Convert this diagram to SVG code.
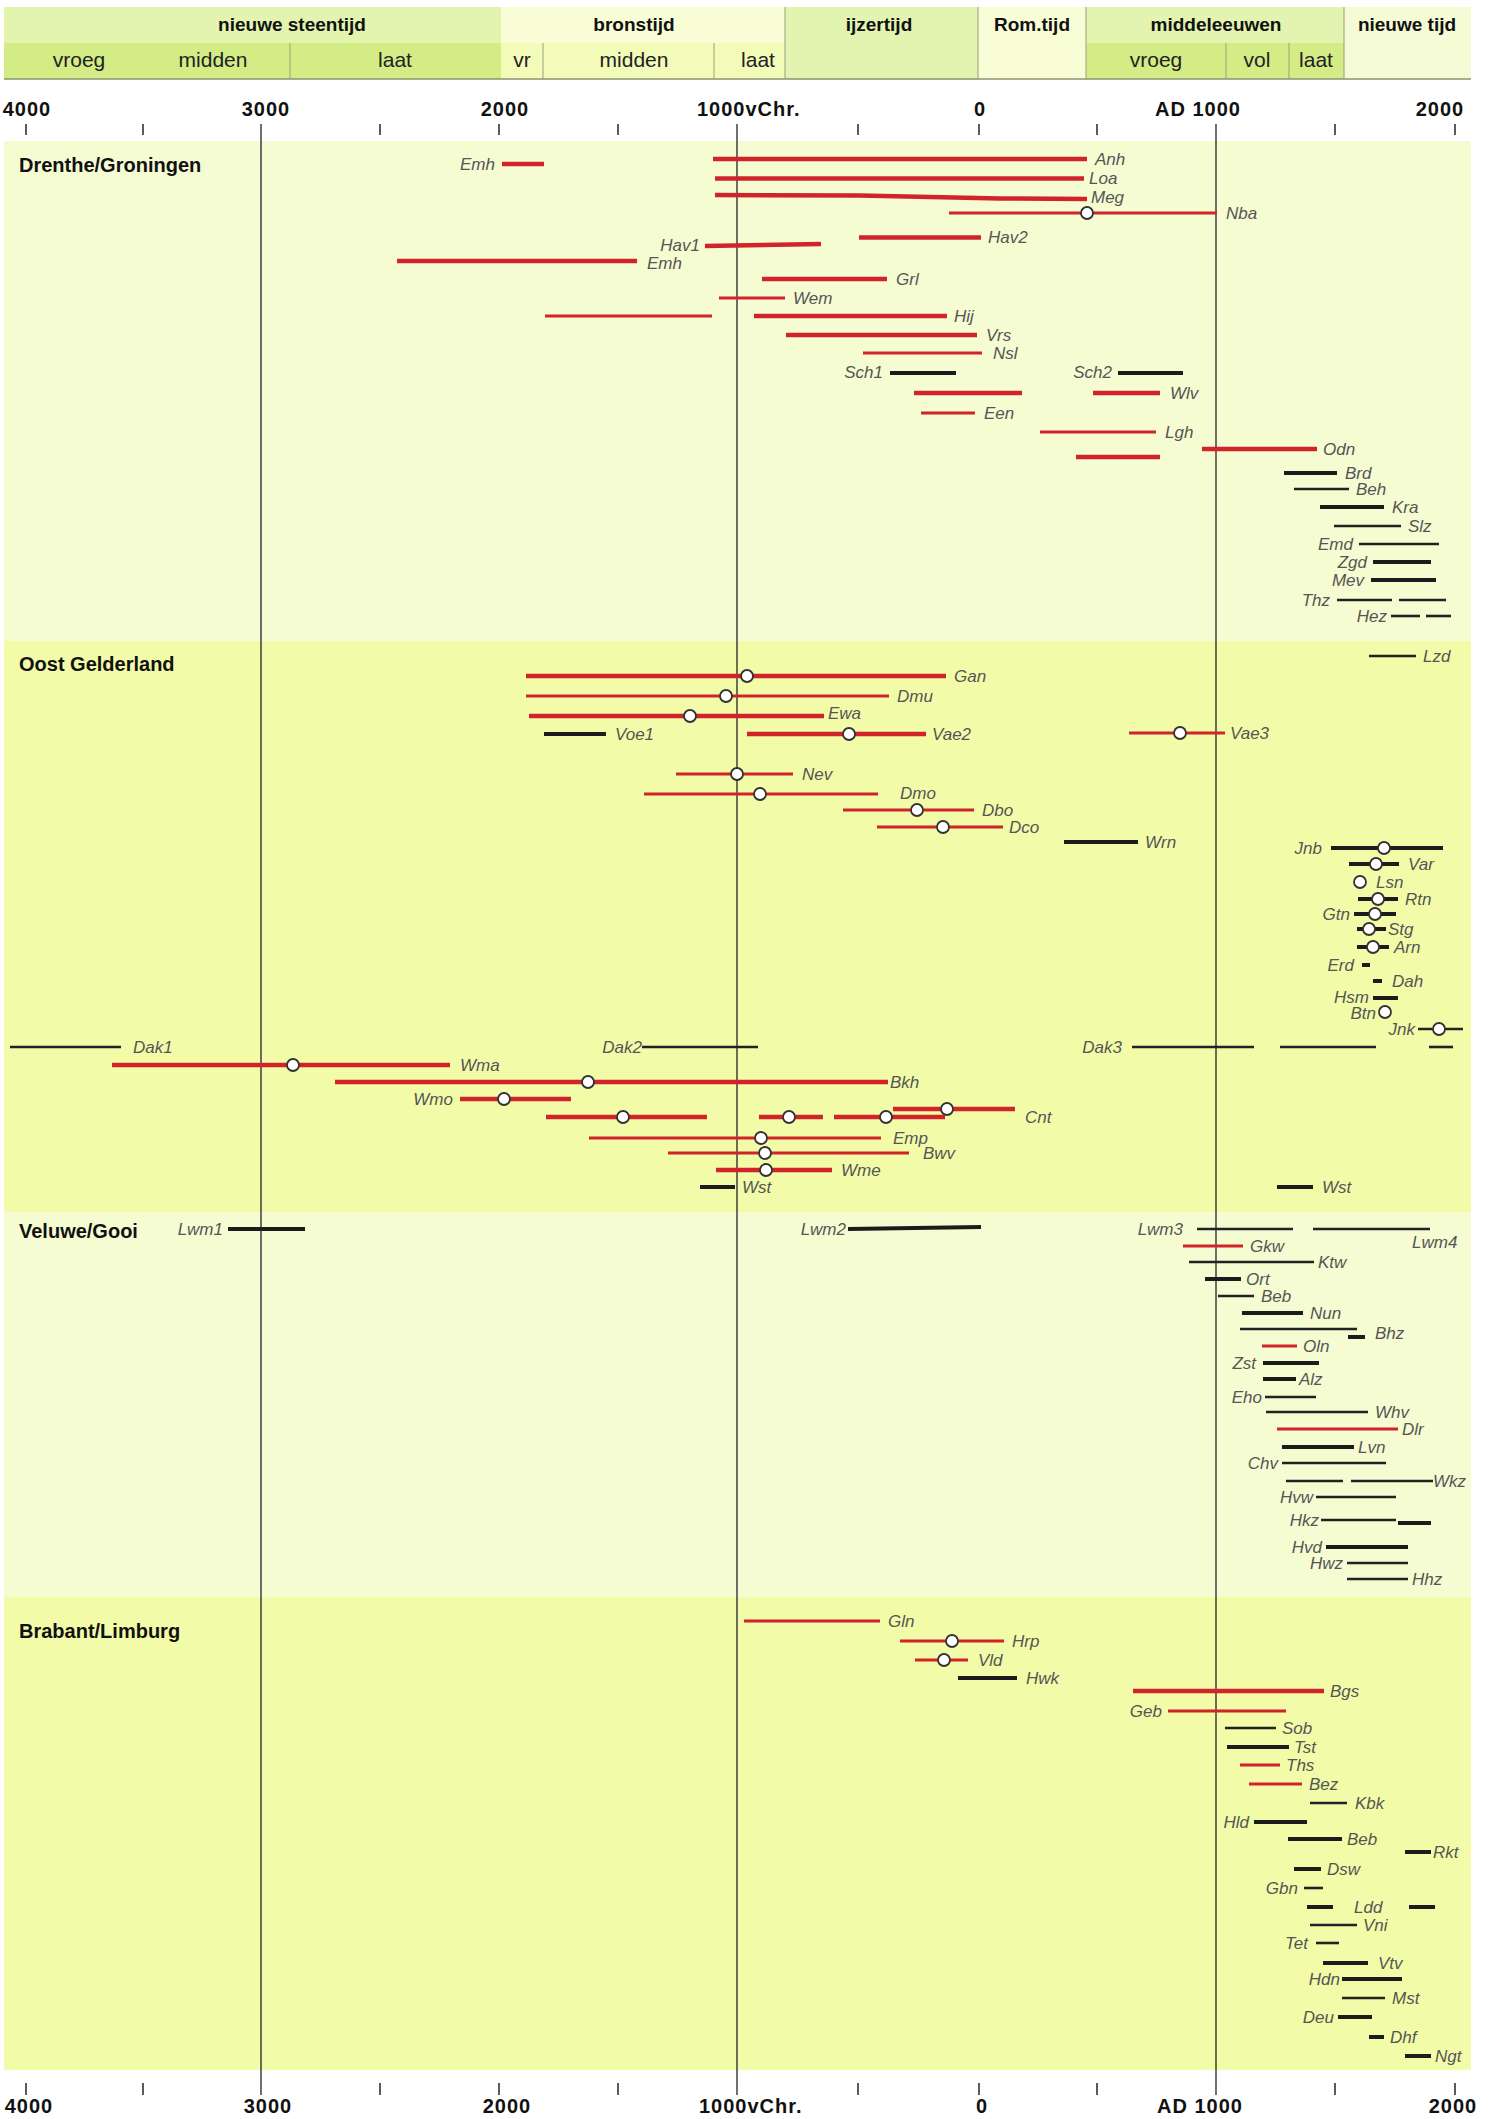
<svg xmlns="http://www.w3.org/2000/svg" width="1498" height="2119" viewBox="0 0 1498 2119">
<style>
.rt{stroke:#d1232a;stroke-width:4.5;fill:none}
.rn{stroke:#d1232a;stroke-width:3;fill:none}
.bt{stroke:#1c1c1c;stroke-width:4;fill:none}
.bn{stroke:#222;stroke-width:2.6;fill:none}
.c{fill:#fff;stroke:#333;stroke-width:1.8}
.l{font-family:"Liberation Sans",Arial,sans-serif;font-style:italic;font-size:17px;fill:#555}
.e{text-anchor:end}
.h1{font-family:"Liberation Sans",Arial,sans-serif;font-weight:bold;font-size:19px;fill:#111;text-anchor:middle}
.h2{font-family:"Liberation Sans",Arial,sans-serif;font-size:21px;fill:#222;text-anchor:middle}
.ax{font-family:"Liberation Sans",Arial,sans-serif;font-weight:bold;font-size:20px;fill:#111;letter-spacing:1px}
.sec{font-family:"Liberation Sans",Arial,sans-serif;font-weight:bold;font-size:20px;fill:#111}
.dv{stroke:#9a9f80;stroke-width:1}
.tk{stroke:#333;stroke-width:1.6}
.vl{stroke:#333;stroke-width:1.4}
</style>
<rect width="1498" height="2119" fill="#fff"/>
<g id="header">
<rect x="4" y="7" width="497" height="36" fill="#e2f4ad"/>
<rect x="4" y="43" width="497" height="36" fill="#d3ec86"/>
<rect x="501" y="7" width="284" height="36" fill="#f8fdd6"/>
<rect x="501" y="43" width="284" height="36" fill="#f3fbb8"/>
<rect x="785" y="7" width="193" height="72" fill="#e3f4b0"/>
<rect x="978" y="7" width="108" height="72" fill="#f8fdd6"/>
<rect x="1086" y="7" width="258" height="36" fill="#e3f4b0"/>
<rect x="1086" y="43" width="258" height="36" fill="#d3ec86"/>
<rect x="1344" y="7" width="127" height="72" fill="#f5fbd4"/>
<line class="dv" x1="290" y1="43" x2="290" y2="79"/>
<line class="dv" x1="543" y1="43" x2="543" y2="79"/>
<line class="dv" x1="714" y1="43" x2="714" y2="79"/>
<line class="dv" x1="1226" y1="43" x2="1226" y2="79"/>
<line class="dv" x1="1289" y1="43" x2="1289" y2="79"/>
<line class="dv" x1="785" y1="7" x2="785" y2="79"/>
<line class="dv" x1="978" y1="7" x2="978" y2="79"/>
<line class="dv" x1="1086" y1="7" x2="1086" y2="79"/>
<line class="dv" x1="1344" y1="7" x2="1344" y2="79"/>
<line x1="4" y1="79" x2="1471" y2="79" stroke="#8d9270" stroke-width="1.4"/>
<text class="h1" x="292" y="31">nieuwe steentijd</text>
<text class="h1" x="634" y="31">bronstijd</text>
<text class="h1" x="879" y="31">ijzertijd</text>
<text class="h1" x="1032" y="31">Rom.tijd</text>
<text class="h1" x="1216" y="31">middeleeuwen</text>
<text class="h1" x="1407" y="31">nieuwe tijd</text>
<text class="h2" x="79" y="67">vroeg</text>
<text class="h2" x="213" y="67">midden</text>
<text class="h2" x="395" y="67">laat</text>
<text class="h2" x="522" y="67">vr</text>
<text class="h2" x="634" y="67">midden</text>
<text class="h2" x="758" y="67">laat</text>
<text class="h2" x="1156" y="67">vroeg</text>
<text class="h2" x="1257" y="67">vol</text>
<text class="h2" x="1316" y="67">laat</text>
</g>
<g id="bands">
<rect x="4" y="141" width="1467" height="500" fill="#f6fcd2"/>
<rect x="4" y="641" width="1467" height="571" fill="#f2fca8"/>
<rect x="4" y="1212" width="1467" height="385" fill="#f6fcd2"/>
<rect x="4" y="1597" width="1467" height="473" fill="#f2fca8"/>
<text class="sec" x="19" y="172">Drenthe/Groningen</text>
<text class="sec" x="19" y="671">Oost Gelderland</text>
<text class="sec" x="19" y="1238">Veluwe/Gooi</text>
<text class="sec" x="19" y="1638">Brabant/Limburg</text>
</g>
<g id="axis">
<g class="tk">
<line x1="26" y1="124" x2="26" y2="135"/><line x1="143" y1="124" x2="143" y2="135"/><line x1="380" y1="124" x2="380" y2="135"/><line x1="499" y1="124" x2="499" y2="135"/><line x1="618" y1="124" x2="618" y2="135"/><line x1="858" y1="124" x2="858" y2="135"/><line x1="979" y1="124" x2="979" y2="135"/><line x1="1097" y1="124" x2="1097" y2="135"/><line x1="1335" y1="124" x2="1335" y2="135"/><line x1="1455" y1="124" x2="1455" y2="135"/>
<line x1="26" y1="2083" x2="26" y2="2095"/><line x1="143" y1="2083" x2="143" y2="2095"/><line x1="380" y1="2083" x2="380" y2="2095"/><line x1="499" y1="2083" x2="499" y2="2095"/><line x1="618" y1="2083" x2="618" y2="2095"/><line x1="858" y1="2083" x2="858" y2="2095"/><line x1="979" y1="2083" x2="979" y2="2095"/><line x1="1097" y1="2083" x2="1097" y2="2095"/><line x1="1335" y1="2083" x2="1335" y2="2095"/><line x1="1455" y1="2083" x2="1455" y2="2095"/>
</g>
<line class="vl" x1="261" y1="124" x2="261" y2="2095"/>
<line class="vl" x1="737" y1="124" x2="737" y2="2095"/>
<line class="vl" x1="1216" y1="124" x2="1216" y2="2095" stroke="#555" stroke-width="2"/>
<text class="ax" x="27" y="116" text-anchor="middle">4000</text>
<text class="ax" x="266" y="116" text-anchor="middle">3000</text>
<text class="ax" x="505" y="116" text-anchor="middle">2000</text>
<text class="ax" x="697" y="116">1000vChr.</text>
<text class="ax" x="980" y="116" text-anchor="middle">0</text>
<text class="ax" x="1198" y="116" text-anchor="middle">AD 1000</text>
<text class="ax" x="1440" y="116" text-anchor="middle">2000</text>
<text class="ax" x="29" y="2113" text-anchor="middle">4000</text>
<text class="ax" x="268" y="2113" text-anchor="middle">3000</text>
<text class="ax" x="507" y="2113" text-anchor="middle">2000</text>
<text class="ax" x="699" y="2113">1000vChr.</text>
<text class="ax" x="982" y="2113" text-anchor="middle">0</text>
<text class="ax" x="1200" y="2113" text-anchor="middle">AD 1000</text>
<text class="ax" x="1453" y="2113" text-anchor="middle">2000</text>
</g>
<g id="drenthe">
<g id="emh1"><line class="rt" x1="502" y1="164" x2="544" y2="164"/><text class="l e" x="495" y="170">Emh</text></g>
<g id="anh"><line class="rt" x1="713" y1="159" x2="1087" y2="159"/><text class="l" x="1095" y="165">Anh</text></g>
<g id="loa"><line class="rt" x1="715" y1="178.5" x2="1084" y2="178.5"/><text class="l" x="1089" y="184">Loa</text></g>
<g id="meg"><polyline class="rt" points="715,195 860,195.5 1000,198.5 1087,199"/><text class="l" x="1091" y="203">Meg</text></g>
<g id="nba"><line class="rn" x1="949" y1="213" x2="1217" y2="213"/><circle class="c" cx="1087" cy="213" r="6"/><text class="l" x="1226" y="219">Nba</text></g>
<g id="hav2"><line class="rt" x1="859" y1="237.5" x2="981" y2="237.5"/><text class="l" x="988" y="243">Hav2</text></g>
<g id="hav1"><line class="rt" x1="705" y1="246" x2="821" y2="244"/><text class="l e" x="700" y="251">Hav1</text></g>
<g id="emh2"><line class="rt" x1="397" y1="261" x2="637" y2="261"/><text class="l" x="647" y="269">Emh</text></g>
<g id="grl"><line class="rt" x1="762" y1="279" x2="887" y2="279"/><text class="l" x="896" y="285">Grl</text></g>
<g id="wem"><line class="rn" x1="719" y1="298" x2="785" y2="298"/><text class="l" x="793" y="304">Wem</text></g>
<g id="hij"><line class="rn" x1="545" y1="316" x2="712" y2="316"/><line class="rt" x1="754" y1="316" x2="947" y2="316"/><text class="l" x="954" y="322">Hij</text></g>
<g id="vrs"><line class="rt" x1="786" y1="335" x2="977" y2="335"/><text class="l" x="986" y="341">Vrs</text></g>
<g id="nsl"><line class="rn" x1="863" y1="353" x2="982" y2="353"/><text class="l" x="993" y="359">Nsl</text></g>
<g id="sch1"><line class="bt" x1="890" y1="373" x2="956" y2="373"/><text class="l e" x="883" y="378">Sch1</text></g>
<g id="sch2"><line class="bt" x1="1118" y1="373" x2="1183" y2="373"/><text class="l e" x="1112" y="378">Sch2</text></g>
<g id="wlv"><line class="rt" x1="914" y1="393" x2="1022" y2="393"/><line class="rt" x1="1093" y1="393" x2="1160" y2="393"/><text class="l" x="1170" y="399">Wlv</text></g>
<g id="een"><line class="rn" x1="921" y1="413" x2="975" y2="413"/><text class="l" x="984" y="419">Een</text></g>
<g id="lgh"><line class="rn" x1="1040" y1="432" x2="1156" y2="432"/><line class="rt" x1="1076" y1="457" x2="1160" y2="457"/><text class="l" x="1165" y="438">Lgh</text></g>
<g id="odn"><line class="rt" x1="1202" y1="449" x2="1317" y2="449"/><text class="l" x="1323" y="455">Odn</text></g>
<g id="brd"><line class="bt" x1="1284" y1="473" x2="1337" y2="473"/><text class="l" x="1345" y="479">Brd</text></g>
<g id="beh"><line class="bn" x1="1294" y1="489" x2="1349" y2="489"/><text class="l" x="1356" y="495">Beh</text></g>
<g id="kra"><line class="bt" x1="1320" y1="507" x2="1384" y2="507"/><text class="l" x="1392" y="513">Kra</text></g>
<g id="slz"><line class="bn" x1="1334" y1="526" x2="1401" y2="526"/><text class="l" x="1408" y="532">Slz</text></g>
<g id="emd"><line class="bn" x1="1359" y1="544" x2="1439" y2="544"/><text class="l e" x="1353" y="550">Emd</text></g>
<g id="zgd"><line class="bt" x1="1373" y1="562" x2="1431" y2="562"/><text class="l e" x="1367" y="568">Zgd</text></g>
<g id="mev"><line class="bt" x1="1371" y1="580" x2="1436" y2="580"/><text class="l e" x="1364" y="586">Mev</text></g>
<g id="thz"><line class="bn" x1="1337" y1="600" x2="1392" y2="600"/><line class="bn" x1="1399" y1="600" x2="1446" y2="600"/><text class="l e" x="1330" y="606">Thz</text></g>
<g id="hez"><line class="bn" x1="1391" y1="616" x2="1420" y2="616"/><line class="bn" x1="1426" y1="616" x2="1451" y2="616"/><text class="l e" x="1387" y="622">Hez</text></g>
</g>
<g id="oostgelderland">
<g id="lzd"><line class="bn" x1="1369" y1="656" x2="1416" y2="656"/><text class="l" x="1423" y="662">Lzd</text></g>
<g id="gan"><line class="rt" x1="526" y1="676" x2="946" y2="676"/><circle class="c" cx="747" cy="676" r="6"/><text class="l" x="954" y="682">Gan</text></g>
<g id="dmu"><line class="rn" x1="526" y1="696" x2="889" y2="696"/><circle class="c" cx="726" cy="696" r="6"/><text class="l" x="897" y="702">Dmu</text></g>
<g id="ewa"><line class="rt" x1="529" y1="716" x2="824" y2="716"/><circle class="c" cx="690" cy="716" r="6"/><text class="l" x="828" y="719">Ewa</text></g>
<g id="voe1"><line class="bt" x1="544" y1="734" x2="606" y2="734"/><text class="l" x="615" y="740">Voe1</text></g>
<g id="vae2"><line class="rt" x1="747" y1="734" x2="926" y2="734"/><circle class="c" cx="849" cy="734" r="6"/><text class="l" x="932" y="740">Vae2</text></g>
<g id="vae3"><line class="rn" x1="1129" y1="733" x2="1225" y2="733"/><circle class="c" cx="1180" cy="733" r="6"/><text class="l" x="1230" y="739">Vae3</text></g>
<g id="nev"><line class="rn" x1="676" y1="774" x2="793" y2="774"/><circle class="c" cx="737" cy="774" r="6"/><text class="l" x="802" y="780">Nev</text></g>
<g id="dmo"><line class="rn" x1="644" y1="794" x2="878" y2="794"/><circle class="c" cx="760" cy="794" r="6"/><text class="l" x="900" y="799">Dmo</text></g>
<g id="dbo"><line class="rn" x1="843" y1="810" x2="974" y2="810"/><circle class="c" cx="917" cy="810" r="6"/><text class="l" x="982" y="816">Dbo</text></g>
<g id="dco"><line class="rn" x1="877" y1="827" x2="1003" y2="827"/><circle class="c" cx="943" cy="827" r="6"/><text class="l" x="1009" y="833">Dco</text></g>
<g id="wrn"><line class="bt" x1="1064" y1="842" x2="1138" y2="842"/><text class="l" x="1145" y="848">Wrn</text></g>
<g id="jnb"><line class="bt" x1="1331" y1="848" x2="1443" y2="848"/><circle class="c" cx="1384" cy="848" r="6"/><text class="l e" x="1322" y="854">Jnb</text></g>
<g id="var"><line class="bt" x1="1349" y1="864" x2="1399" y2="864"/><circle class="c" cx="1376" cy="864" r="6"/><text class="l" x="1408" y="870">Var</text></g>
<g id="lsn"><circle class="c" cx="1360" cy="882" r="6"/><text class="l" x="1376" y="888">Lsn</text></g>
<g id="rtn"><line class="bt" x1="1358" y1="899" x2="1398" y2="899"/><circle class="c" cx="1378" cy="899" r="6"/><text class="l" x="1405" y="905">Rtn</text></g>
<g id="gtn"><line class="bt" x1="1354" y1="914" x2="1396" y2="914"/><circle class="c" cx="1375" cy="914" r="6"/><text class="l e" x="1350" y="920">Gtn</text></g>
<g id="stg"><line class="bt" x1="1357" y1="929" x2="1386" y2="929"/><circle class="c" cx="1369" cy="929" r="6"/><text class="l" x="1388" y="935">Stg</text></g>
<g id="arn"><line class="bt" x1="1357" y1="947" x2="1389" y2="947"/><circle class="c" cx="1373" cy="947" r="6"/><text class="l" x="1394" y="953">Arn</text></g>
<g id="erd"><line class="bt" x1="1362" y1="965" x2="1370" y2="965"/><text class="l e" x="1354" y="971">Erd</text></g>
<g id="dah"><line class="bt" x1="1373" y1="981" x2="1382" y2="981"/><text class="l" x="1392" y="987">Dah</text></g>
<g id="hsm"><line class="bt" x1="1373" y1="998" x2="1398" y2="998"/><text class="l e" x="1369" y="1003">Hsm</text></g>
<g id="btn"><circle class="c" cx="1385" cy="1012" r="6"/><text class="l e" x="1376" y="1019">Btn</text></g>
<g id="jnk"><line class="bn" x1="1418" y1="1029" x2="1463" y2="1029"/><circle class="c" cx="1439" cy="1029" r="6"/><text class="l e" x="1415" y="1035">Jnk</text></g>
<g id="dak1"><line class="bn" x1="10" y1="1047" x2="121" y2="1047"/><text class="l" x="133" y="1053">Dak1</text></g>
<g id="dak2"><line class="bn" x1="642" y1="1047" x2="758" y2="1047"/><text class="l e" x="642" y="1053">Dak2</text></g>
<g id="dak3"><line class="bn" x1="1132" y1="1047" x2="1254" y2="1047"/><line class="bn" x1="1280" y1="1047" x2="1376" y2="1047"/><line class="bn" x1="1429" y1="1047" x2="1453" y2="1047"/><text class="l e" x="1122" y="1053">Dak3</text></g>
<g id="wma"><line class="rt" x1="112" y1="1065" x2="450" y2="1065"/><circle class="c" cx="293" cy="1065" r="6"/><text class="l" x="460" y="1071">Wma</text></g>
<g id="bkh"><line class="rt" x1="335" y1="1082" x2="888" y2="1082"/><circle class="c" cx="588" cy="1082" r="6"/><text class="l" x="890" y="1088">Bkh</text></g>
<g id="wmo"><line class="rt" x1="460" y1="1099" x2="571" y2="1099"/><circle class="c" cx="504" cy="1099" r="6"/><text class="l e" x="453" y="1105">Wmo</text></g>
<g id="cnt"><line class="rt" x1="546" y1="1117" x2="707" y2="1117"/><line class="rt" x1="759" y1="1117" x2="823" y2="1117"/><line class="rt" x1="834" y1="1117" x2="945" y2="1117"/><line class="rt" x1="893" y1="1109" x2="1015" y2="1109"/><circle class="c" cx="623" cy="1117" r="6"/><circle class="c" cx="789" cy="1117" r="6"/><circle class="c" cx="886" cy="1117" r="6"/><circle class="c" cx="947" cy="1109" r="6"/><text class="l" x="1025" y="1123">Cnt</text></g>
<g id="emp"><line class="rn" x1="589" y1="1138" x2="881" y2="1138"/><circle class="c" cx="761" cy="1138" r="6"/><text class="l" x="893" y="1144">Emp</text></g>
<g id="bwv"><line class="rn" x1="668" y1="1153" x2="909" y2="1153"/><circle class="c" cx="765" cy="1153" r="6"/><text class="l" x="923" y="1159">Bwv</text></g>
<g id="wme"><line class="rt" x1="716" y1="1170" x2="832" y2="1170"/><circle class="c" cx="766" cy="1170" r="6"/><text class="l" x="841" y="1176">Wme</text></g>
<g id="wst1"><line class="bt" x1="700" y1="1187" x2="735" y2="1187"/><text class="l" x="742" y="1193">Wst</text></g>
<g id="wst2"><line class="bt" x1="1277" y1="1187" x2="1313" y2="1187"/><text class="l" x="1322" y="1193">Wst</text></g>
</g>
<g id="veluwe">
<g id="lwm1"><line class="bt" x1="228" y1="1229" x2="305" y2="1229"/><text class="l e" x="223" y="1235">Lwm1</text></g>
<g id="lwm2"><line class="bt" x1="848" y1="1229" x2="981" y2="1227"/><text class="l e" x="846" y="1235">Lwm2</text></g>
<g id="lwm3"><line class="bn" x1="1197" y1="1229" x2="1293" y2="1229"/><text class="l e" x="1183" y="1235">Lwm3</text></g>
<g id="lwm4"><line class="bn" x1="1313" y1="1229" x2="1430" y2="1229"/><text class="l" x="1412" y="1248">Lwm4</text></g>
<g id="gkw"><line class="rn" x1="1183" y1="1246" x2="1243" y2="1246"/><text class="l" x="1250" y="1252">Gkw</text></g>
<g id="ktw"><line class="bn" x1="1189" y1="1262" x2="1314" y2="1262"/><text class="l" x="1318" y="1268">Ktw</text></g>
<g id="ort"><line class="bt" x1="1205" y1="1279" x2="1241" y2="1279"/><text class="l" x="1246" y="1285">Ort</text></g>
<g id="beb1"><line class="bn" x1="1218" y1="1296" x2="1254" y2="1296"/><text class="l" x="1261" y="1302">Beb</text></g>
<g id="nun"><line class="bt" x1="1242" y1="1313" x2="1303" y2="1313"/><text class="l" x="1310" y="1319">Nun</text></g>
<g id="bhz"><line class="bn" x1="1240" y1="1329" x2="1357" y2="1329"/><line class="bt" x1="1348" y1="1337" x2="1365" y2="1337"/><text class="l" x="1375" y="1339">Bhz</text></g>
<g id="oln"><line class="rn" x1="1262" y1="1346" x2="1297" y2="1346"/><text class="l" x="1303" y="1352">Oln</text></g>
<g id="zst"><line class="bt" x1="1263" y1="1363" x2="1319" y2="1363"/><text class="l e" x="1256" y="1369">Zst</text></g>
<g id="alz"><line class="bt" x1="1263" y1="1379" x2="1296" y2="1379"/><text class="l" x="1299" y="1385">Alz</text></g>
<g id="eho"><line class="bn" x1="1265" y1="1397" x2="1316" y2="1397"/><text class="l e" x="1262" y="1403">Eho</text></g>
<g id="whv"><line class="bn" x1="1266" y1="1412" x2="1368" y2="1412"/><text class="l" x="1375" y="1418">Whv</text></g>
<g id="dlr"><line class="rn" x1="1277" y1="1429" x2="1398" y2="1429"/><text class="l" x="1402" y="1435">Dlr</text></g>
<g id="lvn"><line class="bt" x1="1282" y1="1447" x2="1354" y2="1447"/><text class="l" x="1358" y="1453">Lvn</text></g>
<g id="chv"><line class="bn" x1="1282" y1="1463" x2="1386" y2="1463"/><text class="l e" x="1278" y="1469">Chv</text></g>
<g id="wkz"><line class="bn" x1="1286" y1="1481" x2="1343" y2="1481"/><line class="bn" x1="1351" y1="1481" x2="1433" y2="1481"/><text class="l" x="1433" y="1487">Wkz</text></g>
<g id="hvw"><line class="bn" x1="1316" y1="1497" x2="1396" y2="1497"/><text class="l e" x="1313" y="1503">Hvw</text></g>
<g id="hkz"><line class="bn" x1="1321" y1="1520" x2="1396" y2="1520"/><line class="bt" x1="1398" y1="1523" x2="1431" y2="1523"/><text class="l e" x="1319" y="1526">Hkz</text></g>
<g id="hvd"><line class="bt" x1="1326" y1="1547" x2="1408" y2="1547"/><text class="l e" x="1322" y="1553">Hvd</text></g>
<g id="hwz"><line class="bn" x1="1347" y1="1563" x2="1408" y2="1563"/><text class="l e" x="1343" y="1569">Hwz</text></g>
<g id="hhz"><line class="bn" x1="1347" y1="1579" x2="1408" y2="1579"/><text class="l" x="1412" y="1585">Hhz</text></g>
</g>
<g id="brabant">
<g id="gln"><line class="rn" x1="744" y1="1621" x2="880" y2="1621"/><text class="l" x="888" y="1627">Gln</text></g>
<g id="hrp"><line class="rn" x1="900" y1="1641" x2="1004" y2="1641"/><circle class="c" cx="952" cy="1641" r="6"/><text class="l" x="1012" y="1647">Hrp</text></g>
<g id="vld"><line class="rn" x1="915" y1="1660" x2="968" y2="1660"/><circle class="c" cx="944" cy="1660" r="6"/><text class="l" x="978" y="1666">Vld</text></g>
<g id="hwk"><line class="bt" x1="958" y1="1678" x2="1017" y2="1678"/><text class="l" x="1026" y="1684">Hwk</text></g>
<g id="bgs"><line class="rt" x1="1133" y1="1691" x2="1324" y2="1691"/><text class="l" x="1330" y="1697">Bgs</text></g>
<g id="geb"><line class="rn" x1="1168" y1="1711" x2="1286" y2="1711"/><text class="l e" x="1162" y="1717">Geb</text></g>
<g id="sob"><line class="bn" x1="1225" y1="1728" x2="1276" y2="1728"/><text class="l" x="1282" y="1734">Sob</text></g>
<g id="tst"><line class="bt" x1="1227" y1="1747" x2="1289" y2="1747"/><text class="l" x="1294" y="1753">Tst</text></g>
<g id="ths"><line class="rn" x1="1240" y1="1765" x2="1280" y2="1765"/><text class="l" x="1286" y="1771">Ths</text></g>
<g id="bez"><line class="rn" x1="1249" y1="1784" x2="1302" y2="1784"/><text class="l" x="1309" y="1790">Bez</text></g>
<g id="kbk"><line class="bn" x1="1310" y1="1803" x2="1347" y2="1803"/><text class="l" x="1355" y="1809">Kbk</text></g>
<g id="hld"><line class="bt" x1="1254" y1="1822" x2="1307" y2="1822"/><text class="l e" x="1249" y="1828">Hld</text></g>
<g id="beb2"><line class="bt" x1="1288" y1="1839" x2="1342" y2="1839"/><text class="l" x="1347" y="1845">Beb</text></g>
<g id="rkt"><line class="bt" x1="1405" y1="1852" x2="1431" y2="1852"/><text class="l" x="1433" y="1858">Rkt</text></g>
<g id="dsw"><line class="bt" x1="1294" y1="1869" x2="1321" y2="1869"/><text class="l" x="1327" y="1875">Dsw</text></g>
<g id="gbn"><line class="bn" x1="1304" y1="1888" x2="1323" y2="1888"/><text class="l e" x="1298" y="1894">Gbn</text></g>
<g id="ldd"><line class="bt" x1="1307" y1="1907" x2="1333" y2="1907"/><line class="bt" x1="1409" y1="1907" x2="1435" y2="1907"/><text class="l" x="1354" y="1913">Ldd</text></g>
<g id="vni"><line class="bn" x1="1310" y1="1925" x2="1357" y2="1925"/><text class="l" x="1363" y="1931">Vni</text></g>
<g id="tet"><line class="bn" x1="1316" y1="1943" x2="1339" y2="1943"/><text class="l e" x="1308" y="1949">Tet</text></g>
<g id="vtv"><line class="bt" x1="1323" y1="1963" x2="1368" y2="1963"/><text class="l" x="1378" y="1969">Vtv</text></g>
<g id="hdn"><line class="bt" x1="1342" y1="1979" x2="1402" y2="1979"/><text class="l e" x="1340" y="1985">Hdn</text></g>
<g id="mst"><line class="bn" x1="1342" y1="1998" x2="1385" y2="1998"/><text class="l" x="1392" y="2004">Mst</text></g>
<g id="deu"><line class="bt" x1="1338" y1="2017" x2="1372" y2="2017"/><text class="l e" x="1334" y="2023">Deu</text></g>
<g id="dhf"><line class="bt" x1="1369" y1="2037" x2="1384" y2="2037"/><text class="l" x="1390" y="2043">Dhf</text></g>
<g id="ngt"><line class="bt" x1="1405" y1="2056" x2="1431" y2="2056"/><text class="l" x="1435" y="2062">Ngt</text></g>
</g>
</svg>
